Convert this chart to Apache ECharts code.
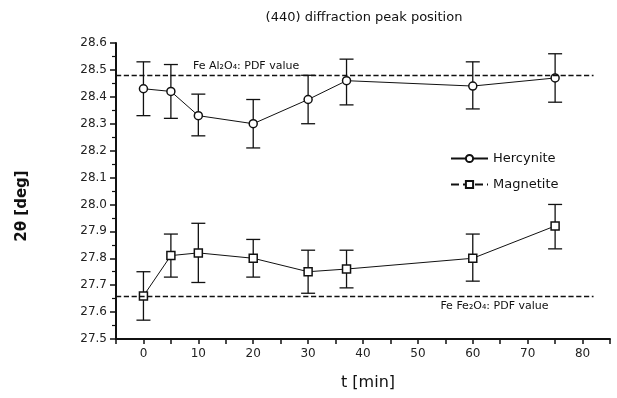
<!doctype html>
<html>
<head>
  <meta charset="utf-8">
  <script src="https://cdn.jsdelivr.net/npm/echarts@6/dist/echarts.min.js"></script>
  <style>
    html, body { margin: 0; padding: 0; background: #fff; }
    #chart { width: 617px; height: 398px; }
  </style>
</head>
<body>
<div id="chart"></div>
<script type="text/javascript">
// time points [min]
var times = [0, 5, 10, 20, 30, 37, 60, 75];

// Hercynite peak position and error bar ends
var hercynite     = [28.43, 28.42, 28.33, 28.30, 28.39, 28.46, 28.44, 28.47];
var hercyniteLow  = [28.33, 28.32, 28.255, 28.21, 28.30, 28.37, 28.355, 28.38];
var hercyniteHigh = [28.53, 28.52, 28.41, 28.39, 28.48, 28.54, 28.53, 28.56];

// Magnetite peak position and error bar ends
var magnetite     = [27.66, 27.81, 27.82, 27.80, 27.75, 27.76, 27.80, 27.92];
var magnetiteLow  = [27.57, 27.73, 27.71, 27.73, 27.67, 27.69, 27.715, 27.835];
var magnetiteHigh = [27.75, 27.89, 27.93, 27.87, 27.83, 27.83, 27.89, 28.00];

// PDF reference values
var pdfAl = 28.48;
var pdfFe = 27.66;
var refLineRange = [-5, 82];

function pairs(xs, ys) {
  return xs.map(function (x, i) { return [x, ys[i]]; });
}
function triples(xs, lo, hi) {
  return xs.map(function (x, i) { return [x, lo[i], hi[i]]; });
}

function renderErrorBar(params, api) {
  var x = api.value(0);
  var lo = api.coord([x, api.value(1)]);
  var hi = api.coord([x, api.value(2)]);
  var w = 7;
  var st = { stroke: '#111', lineWidth: 1.3 };
  return {
    type: 'group',
    children: [
      { type: 'line', shape: { x1: hi[0], y1: hi[1], x2: lo[0], y2: lo[1] }, style: st },
      { type: 'line', shape: { x1: hi[0] - w, y1: hi[1], x2: hi[0] + w, y2: hi[1] }, style: st },
      { type: 'line', shape: { x1: lo[0] - w, y1: lo[1], x2: lo[0] + w, y2: lo[1] }, style: st }
    ]
  };
}

var font = 'DejaVu Sans';
var myChart = echarts.init(document.getElementById('chart'));

var option = {
  animation: false,
  backgroundColor: '#fff',
  title: {
    text: '(440) diffraction peak position',
    left: 359,
    textAlign: 'center',
    top: 6,
    textStyle: { fontFamily: font, fontSize: 13, fontWeight: 'normal', color: '#111' }
  },
  legend: {
    orient: 'vertical',
    left: 445,
    top: 147,
    itemWidth: 37,
    itemHeight: 9,
    itemGap: 13,
    textStyle: { fontFamily: font, fontSize: 13, color: '#111' },
    data: [
      { name: 'Hercynite' },
      { name: 'Magnetite', lineStyle: { type: 'dashed' } }
    ]
  },
  grid: { left: 116, right: 7, top: 43, bottom: 59 },
  xAxis: {
    type: 'value',
    min: -5,
    max: 85,
    interval: 5,
    name: 't [min]',
    nameLocation: 'middle',
    nameGap: 36,
    nameTextStyle: { fontFamily: font, fontSize: 16, color: '#111', padding: [0, 0, 0, 10] },
    axisLine: { onZero: false, lineStyle: { color: '#111', width: 2 } },
    axisTick: { inside: false, length: 5, lineStyle: { color: '#111', width: 1.5 } },
    axisLabel: {
      fontFamily: font, fontSize: 12, color: '#222', margin: 9,
      formatter: function (v) { return v % 10 === 0 ? String(v) : ''; }
    },
    splitLine: { show: false }
  },
  yAxis: {
    type: 'value',
    min: 27.5,
    max: 28.6,
    interval: 0.1,
    name: '2θ [deg]',
    nameLocation: 'middle',
    nameGap: 86,
    nameTextStyle: { fontFamily: font, fontSize: 15, fontWeight: 'bold', color: '#111', padding: [0, 0, 0, -30] },
    axisLine: { onZero: false, lineStyle: { color: '#111', width: 2 } },
    axisTick: { length: 6, lineStyle: { color: '#111', width: 1.5 } },
    minorTick: { show: true, splitNumber: 2, length: 4, lineStyle: { color: '#111', width: 1.2 } },
    axisLabel: {
      fontFamily: font, fontSize: 12, color: '#222', margin: 9,
      formatter: function (v) { return v.toFixed(1); }
    },
    splitLine: { show: false }
  },
  series: [
    {
      name: 'Hercynite err',
      type: 'custom',
      renderItem: renderErrorBar,
      data: triples(times, hercyniteLow, hercyniteHigh),
      z: 1
    },
    {
      name: 'Magnetite err',
      type: 'custom',
      renderItem: renderErrorBar,
      data: triples(times, magnetiteLow, magnetiteHigh),
      z: 1
    },
    {
      name: 'Hercynite',
      type: 'line',
      data: pairs(times, hercynite),
      symbol: 'circle',
      symbolSize: 8,
      z: 3,
      lineStyle: { color: '#111', width: 1 },
      itemStyle: { color: '#fff', borderColor: '#111', borderWidth: 1.5 },
      markLine: {
        silent: true,
        symbol: ['none', 'none'],
        lineStyle: { color: '#111', type: 'dashed', width: 1.3 },
        label: {
          position: 'insideStartTop',
          distance: [77, 4],
          fontFamily: font, fontSize: 11, color: '#111',
          formatter: 'Fe Al₂O₄: PDF value'
        },
        data: [[{ coord: [refLineRange[0], pdfAl] }, { coord: [refLineRange[1], pdfAl] }]]
      }
    },
    {
      name: 'Magnetite',
      type: 'line',
      data: pairs(times, magnetite),
      symbol: 'rect',
      symbolSize: 8,
      z: 3,
      lineStyle: { color: '#111', width: 1 },
      itemStyle: { color: '#fff', borderColor: '#111', borderWidth: 1.5 },
      markLine: {
        silent: true,
        symbol: ['none', 'none'],
        lineStyle: { color: '#111', type: 'dashed', width: 1.3 },
        label: {
          position: 'insideEndBottom',
          distance: [45, 5],
          fontFamily: font, fontSize: 11, color: '#111',
          formatter: 'Fe Fe₂O₄: PDF value'
        },
        data: [[{ coord: [refLineRange[0], pdfFe] }, { coord: [refLineRange[1], pdfFe] }]]
      }
    }
  ]
};

myChart.setOption(option);
</script>
</body>
</html>
